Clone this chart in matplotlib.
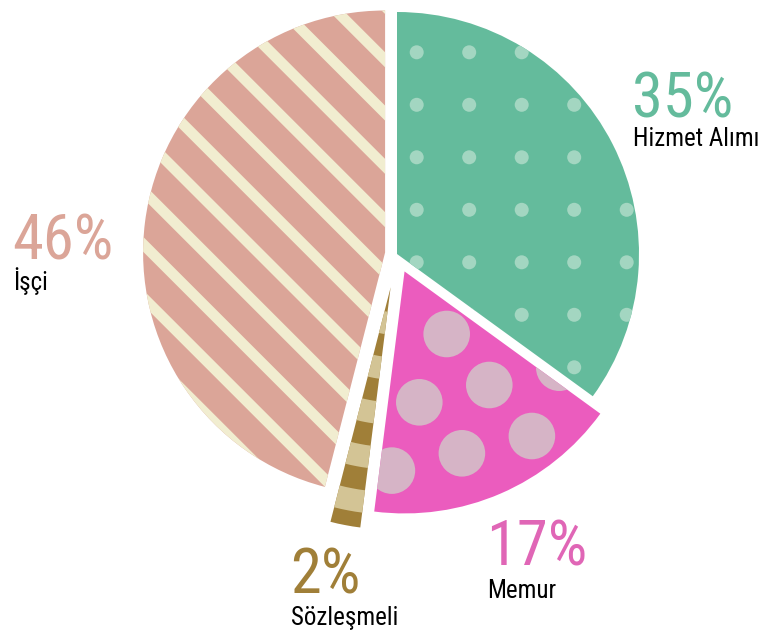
import numpy as np
import matplotlib
matplotlib.use("Agg")
import matplotlib.pyplot as plt
from matplotlib import font_manager
from matplotlib.patches import Circle, Polygon, Wedge
from matplotlib.collections import PatchCollection

# data
labels = ["Hizmet Alımı", "Memur", "Sözleşmeli", "İşçi"]
shares = [35, 17, 2, 46]
pct_text = ["35%", "17%", "2%", "46%"]

base_colors = ["#64bb9c", "#eb5cbe", "#a07f38", "#dba598"]
text_colors = ["#64bb9c", "#e066b6", "#a07f38", "#dba598"]
explode = [0, 19, 34, 12]  # pie offsets, in data units (= pixels here)

W, H = 765, 631

# pick a condensed font if one is around
names = {f.name for f in font_manager.fontManager.ttflist}
font = "DejaVu Sans"
for cand in ["Liberation Sans Narrow", "Roboto Condensed", "DejaVu Sans Condensed", "Roboto"]:
    if cand in names:
        font = cand
        break
plt.rcParams["font.family"] = [font, "DejaVu Sans"]

fig = plt.figure(figsize=(W / 100, H / 100), dpi=100)
ax = fig.add_axes([0, 0, 1, 1])


def Y(py):
    # pixel row -> data y
    return H - py


wedges, _ = ax.pie(
    shares,
    colors=base_colors,
    explode=explode,
    startangle=90,
    counterclock=False,
    center=(397, Y(254)),
    radius=242,
    wedgeprops=dict(linewidth=0),
    frame=True,
)
ax.set_xlim(0, W)
ax.set_ylim(0, H)
ax.set_aspect("equal")
ax.axis("off")

w_green, w_pink, w_brown, w_salmon = wedges

# green: small light dots
dots = []
for i in range(-2, 8):
    for j in range(-2, 12):
        dots.append(Circle((416.7 + 52.5 * i, Y(52.3 + 52.5 * j)), 7))
pc = PatchCollection(dots, facecolor="#a3d6c1", edgecolor="none", zorder=3)
pc.set_clip_path(w_green)
ax.add_collection(pc)

# pink: big pale circles on a slanted lattice (only where the slice really is)
cx, cy = w_pink.center
t1, t2 = np.radians(w_pink.theta1), np.radians(w_pink.theta2)
big = []
for i in range(-6, 7):
    for j in range(-6, 7):
        px = 446.7 + 42.6 * i - 27.4 * j
        py = 334 + 51 * i + 68.3 * j
        dx, dy = px - cx, Y(py) - cy
        dist = np.hypot(dx, dy)
        # signed distance inside the two straight edges
        s1 = -dx * np.sin(t1) + dy * np.cos(t1)
        s2 = dx * np.sin(t2) - dy * np.cos(t2)
        if 30 < dist < w_pink.r and s1 > -10 and s2 > -15:
            big.append(Circle((px, Y(py)), 23.3))
pc = PatchCollection(big, facecolor="#d6b4c6", edgecolor="none", zorder=3)
pc.set_clip_path(w_pink)
ax.add_collection(pc)

# salmon: cream diagonal stripes
stripes = []
for k in range(-8, 8):
    c = 5.5 + 53.3 * k
    p0, p1 = -60, 700
    pts = [(c - 7.5 + p0, Y(p0)), (c + 7.5 + p0, Y(p0)),
           (c + 7.5 + p1, Y(p1)), (c - 7.5 + p1, Y(p1))]
    stripes.append(Polygon(pts))
pc = PatchCollection(stripes, facecolor="#f1edd0", edgecolor="none", zorder=3)
pc.set_clip_path(w_salmon)
ax.add_collection(pc)

# brown: light bands across the thin slice
r = w_brown.r
edge = r - 15
while edge > 0:
    band = Wedge(w_brown.center, edge, w_brown.theta1, w_brown.theta2,
                 width=min(22.5, edge), facecolor="#d3c495", edgecolor="none", zorder=3)
    ax.add_patch(band)
    edge -= 45

# text
pct_pos = [(632, 117), (486, 565), (290, 593), (12, 259)]
lab_pos = [(633, 146), (487, 598), (291, 625), (13, 290)]
for k in range(4):
    x, y = pct_pos[k]
    ax.text(x, Y(y), pct_text[k], color=text_colors[k], fontsize=45,
            fontweight="normal", ha="left", va="baseline")
    x, y = lab_pos[k]
    ax.text(x, Y(y), labels[k], color="black", fontsize=18,
            fontweight="normal", ha="left", va="baseline")

fig.savefig("out.png", dpi=100)
